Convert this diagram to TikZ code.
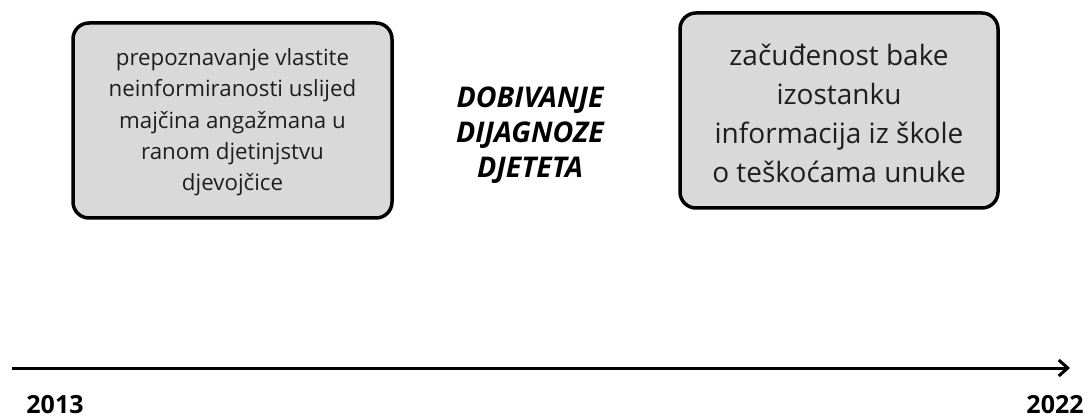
\documentclass[tikz,border=0pt]{standalone}
\usepackage{fontspec}
\setmainfont{Open Sans}
\usetikzlibrary{arrows.meta}
\tikzset{
  eventbox/.style={draw=black, line width=3.5pt, fill=boxgray, rounded corners=16pt,
    align=center, inner sep=0pt, text=textgray},
  midlabel/.style={align=center, font=\fontsize{28.5}{35}\selectfont\bfseries\itshape},
  yearlabel/.style={font=\fontsize{25}{30}\selectfont\bfseries, inner sep=0pt},
  axisline/.style={line width=3pt, -{Straight Barb[length=9pt,width=16pt,line width=3pt]}}
}
\definecolor{boxgray}{HTML}{D9D9D9}
\definecolor{textgray}{HTML}{1E1E1E}
\begin{document}
\begin{tikzpicture}[x=1pt,y=-1pt]
\useasboundingbox (0,0) rectangle (1091,419);
\node[eventbox, minimum width=319pt, minimum height=195pt] (left) at (232.5,120.5) {};
\node[align=center, text=textgray, font=\fontsize{22.3}{31.3}\selectfont] (lefttext) at (232.5,122.5)
  {prepoznavanje vlastite\\neinformiranosti uslijed\\majčina angažmana u\\ranom djetinjstvu\\djevojčice};
\node[eventbox, minimum width=318pt, minimum height=195pt] (right) at (839,110.5) {};
\node[align=center, text=textgray, font=\fontsize{28}{39}\selectfont] (righttext) at (839,113.5)
  {začuđenost bake\\izostanku\\informacija iz škole\\o teškoćama unuke};
\node[midlabel] (mid) at (530,135) {DOBIVANJE\\DIJAGNOZE\\DJETETA};
\coordinate (axstart) at (12,368);
\coordinate (axend) at (1070,368);
\draw[axisline] (axstart) -- (axend);
\node[yearlabel] (y2013) at (55,405) {2013};
\node[yearlabel] (y2022) at (1055,405) {2022};
\end{tikzpicture}
\end{document}
